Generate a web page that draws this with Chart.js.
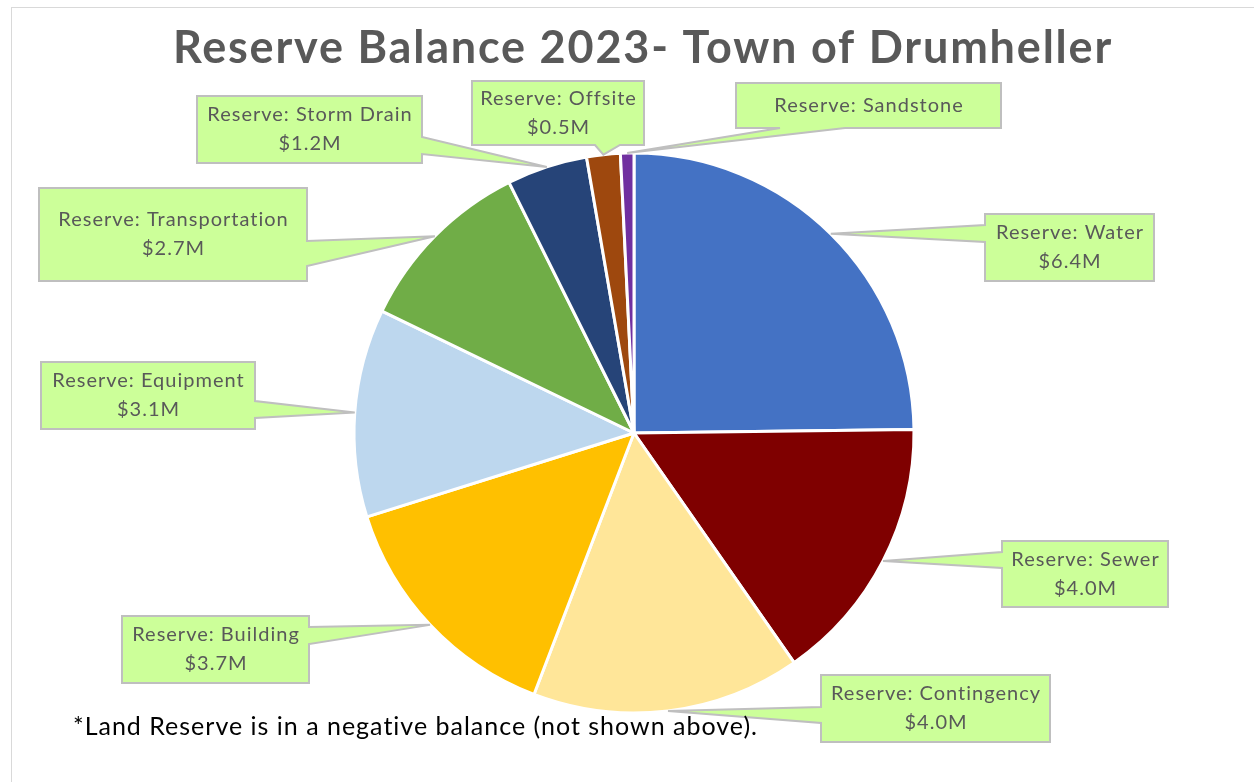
<!DOCTYPE html>
<html>
<head>
<meta charset="utf-8">
<script src="https://cdn.jsdelivr.net/npm/chart.js@4/dist/chart.umd.min.js"></script>
<style>
  html, body { margin: 0; padding: 0; background: #fff; overflow: hidden; }
  #wrap { position: relative; width: 1254px; height: 782px; }
  #frame { position: absolute; left: 11px; top: 7px; width: 1300px; height: 800px;
           border-top: 1px solid #d9d9d9; border-left: 1px solid #d9d9d9; }
  #reserveChart { position: absolute; left: 0; top: 0; }
</style>
</head>
<body>
<div id="wrap">
  <div id="frame"></div>
  <canvas id="reserveChart" width="1254" height="782"></canvas>
</div>
<script>
// dati (milioni di dollari)
const categories = ['Water', 'Sewer', 'Contingency', 'Building', 'Equipment',
                    'Transportation', 'Storm Drain', 'Offsite', 'Sandstone'];
const values = [6.4, 4.0, 4.0, 3.7, 3.1, 2.7, 1.2, 0.5, 0.2];
const showValue = [true, true, true, true, true, true, true, true, false];
const sliceColors = ['#4472C4', '#7F0000', '#FFE699', '#FFC000', '#BDD7EE',
                     '#70AD47', '#264478', '#9E480E', '#7030A0'];

const chartTitle = 'Reserve Balance 2023- Town of Drumheller';
const footNote = '*Land Reserve is in a negative balance (not shown above).';

// posizione dei riquadri: x, y, w, h, lato della coda, inizio/fine base coda
const calloutBoxes = [
  [985, 214, 169, 67, 'left', 225, 242],
  [1002, 541, 166, 66, 'left', 552, 568],
  [821, 675, 229, 67, 'left', 707, 723],
  [122, 616, 187, 67, 'right', 627, 644],
  [41, 362, 214, 67, 'right', 401, 418],
  [39, 188, 268, 93, 'right', 241, 266],
  [197, 96, 225, 67, 'right', 137, 154],
  [472, 81, 172, 64, 'bottom', 595, 620],
  [736, 83, 265, 45, 'bottom', 780, 845]
];

const calloutPlugin = {
  id: 'callouts',
  afterDatasetsDraw(chart) {
    const ctx = chart.ctx;
    const meta = chart.getDatasetMeta(0);
    ctx.save();
    meta.data.forEach((arc, i) => {
      const p = arc.getProps(['x', 'y', 'startAngle', 'endAngle', 'outerRadius'], true);
      const mid = (p.startAngle + p.endAngle) / 2;
      const tx = p.x + Math.cos(mid) * p.outerRadius;
      const ty = p.y + Math.sin(mid) * p.outerRadius;
      const [x, y, w, h, side, b1, b2] = calloutBoxes[i];
      const r = x + w, b = y + h;

      ctx.beginPath();
      ctx.moveTo(x, y);
      ctx.lineTo(r, y);
      if (side === 'right') {
        ctx.lineTo(r, b1); ctx.lineTo(tx, ty); ctx.lineTo(r, b2);
      }
      ctx.lineTo(r, b);
      if (side === 'bottom') {
        ctx.lineTo(b2, b); ctx.lineTo(tx, ty); ctx.lineTo(b1, b);
      }
      ctx.lineTo(x, b);
      if (side === 'left') {
        ctx.lineTo(x, b2); ctx.lineTo(tx, ty); ctx.lineTo(x, b1);
      }
      ctx.closePath();
      ctx.fillStyle = '#CCFF99';
      ctx.fill();
      ctx.lineWidth = 2;
      ctx.strokeStyle = '#BFBFBF';
      ctx.lineJoin = 'miter';
      ctx.stroke();

      const lines = ['Reserve: ' + categories[i]];
      if (showValue[i]) lines.push('$' + values[i].toFixed(1) + 'M');
      ctx.fillStyle = '#595959';
      ctx.font = '20px Lato';
      ctx.letterSpacing = '1px';
      ctx.textAlign = 'center';
      ctx.textBaseline = 'middle';
      const lh = 29;
      const cy = y + h / 2 - (lines.length - 1) * lh / 2;
      lines.forEach((t, k) => ctx.fillText(t, x + w / 2 + 0.5, cy + k * lh));
    });

    // titolo e nota
    ctx.fillStyle = '#595959';
    ctx.font = 'bold 45px Lato';
    ctx.letterSpacing = '1.8px';
    ctx.textAlign = 'center';
    ctx.textBaseline = 'middle';
    ctx.fillText(chartTitle, 643, 48);

    ctx.fillStyle = '#000';
    ctx.font = '25px Lato';
    ctx.letterSpacing = '1px';
    ctx.textAlign = 'left';
    ctx.fillText(footNote, 73, 727);
    ctx.restore();
  }
};

const ctx = document.getElementById('reserveChart').getContext('2d');
const reserveChart = new Chart(ctx, {
  type: 'pie',
  data: {
    labels: categories,
    datasets: [{
      data: values,
      backgroundColor: sliceColors,
      borderColor: '#FFFFFF',
      borderWidth: 3,
      radius: 280
    }]
  },
  options: {
    responsive: false,
    animation: false,
    layout: {
      padding: { left: 354, right: 340, top: 153, bottom: 69 }
    },
    plugins: {
      legend: { display: false },
      title: { display: false },
      tooltip: { enabled: false }
    }
  },
  plugins: [calloutPlugin]
});
</script>
</body>
</html>
